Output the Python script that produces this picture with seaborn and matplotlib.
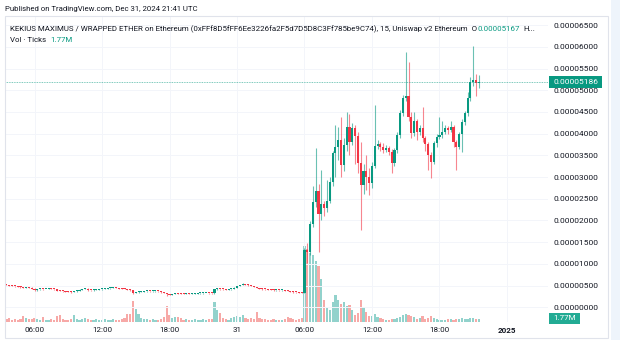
import numpy as np
import pandas as pd
import matplotlib
matplotlib.use("Agg")
import matplotlib.pyplot as plt
import seaborn as sns
from matplotlib.patches import Rectangle
from matplotlib.ticker import FixedLocator, FuncFormatter

# ---------------- data (prices in units of 1e-6 ETH, volume in millions) ----------------
PRICE_UNIT = 1e-6
first_open = 5.2
start_time = "2024-12-30 03:30"

closes = [5.15, 5.0, 4.9, 4.8, 4.75, 4.6, 4.55, 4.6, 4.5, 4.3,
          3.9, 4.1, 4.2, 4.15, 4.2, 4.25, 4.2, 4.1, 3.85, 3.75,
          3.7, 3.6, 3.55, 3.5, 3.65, 3.85, 4.05, 4.2, 4.3, 3.95,
          3.9, 4.0, 4.05, 4.1, 4.2, 4.3, 4.35, 4.45, 4.6, 4.5,
          4.3, 4.25, 4.2, 4.0, 3.9, 3.35, 3.5, 3.55, 3.6, 3.65,
          3.7, 3.65, 3.7, 3.75, 3.7, 3.5, 3.3, 2.95, 2.9, 3.05,
          3.2, 3.15, 3.1, 3.05, 3.1, 3.05, 3.1, 3.15, 3.2, 3.25,
          3.3, 3.3, 3.25, 3.2, 4.1, 4.2, 4.15, 4.1, 4.05, 4.1,
          4.2, 4.5, 4.9, 5.1, 5.35, 5.2, 5.1, 4.9, 4.7, 4.5,
          4.3, 4.15, 4.1, 4.05, 4.0, 3.95, 3.95, 3.9, 3.9, 3.85,
          3.8, 3.6, 3.5, 3.45, 3.4, 3.3,
          13.2, 12.7, 19.3, 24.3, 26.9, 21.5, 23.8, 22.8, 24.6, 28.9,
          35.5, 37.0, 38.5, 32.8, 37.4, 41.5, 38.2, 41.2, 39.5, 33.2,
          28.2, 31.5, 30.0, 28.6, 32.5, 37.2, 37.6, 37.0, 36.3, 36.8,
          35.8, 33.2, 36.2, 39.7, 44.7, 48.2, 48.6, 43.9, 40.1, 42.9,
          40.5, 41.3, 38.9, 37.6, 35.1, 33.5, 37.8, 39.3, 39.6, 40.5,
          41.2, 40.8, 41.5, 38.0, 37.0, 39.9, 42.8, 44.7, 48.2, 52.0,
          52.3, 51.67, 51.86]

highs = [5.3, 5.2, 5.05, 4.95, 4.9, 4.85, 4.7, 4.7, 4.7, 4.6,
         4.35, 4.2, 4.3, 4.3, 4.3, 4.35, 4.35, 4.3, 4.15, 3.9,
         3.85, 3.8, 3.7, 3.65, 3.75, 3.95, 4.15, 4.3, 4.4, 4.35,
         4.05, 4.1, 4.15, 4.2, 4.3, 4.4, 4.45, 4.55, 4.75, 4.7,
         4.55, 4.4, 4.35, 4.25, 4.1, 3.95, 3.6, 3.65, 3.7, 3.75,
         3.8, 3.8, 3.8, 3.85, 3.85, 3.75, 3.55, 3.35, 3.05, 3.15,
         3.3, 3.3, 3.25, 3.2, 3.2, 3.2, 3.2, 3.25, 3.3, 3.35,
         3.4, 3.4, 3.4, 3.35, 4.25, 4.4, 4.3, 4.25, 4.2, 4.2,
         4.3, 4.6, 5.0, 5.2, 5.5, 5.45, 5.3, 5.15, 4.95, 4.75,
         4.55, 4.35, 4.25, 4.2, 4.15, 4.1, 4.05, 4.05, 4.0, 4.0,
         3.95, 3.85, 3.65, 3.6, 3.55, 3.45,
         13.7, 14.7, 19.9, 28.0, 36.7, 28.5, 31.6, 24.5, 29.3, 30.0,
         36.0, 42.0, 41.5, 43.8, 39.0, 45.0, 44.5, 42.5, 42.0, 40.5,
         38.0, 33.0, 35.0, 32.0, 33.5, 46.6, 38.5, 38.0, 37.8, 37.3,
         37.2, 36.5, 36.8, 40.5, 45.5, 49.0, 58.9, 56.6, 45.0, 45.0,
         43.5, 42.0, 46.2, 39.5, 38.0, 35.8, 38.3, 40.0, 43.9, 43.0,
         42.0, 41.8, 43.0, 42.0, 38.5, 40.5, 43.5, 45.2, 49.5, 53.0,
         60.3, 53.8, 53.6]

lows = [5.05, 4.9, 4.8, 4.7, 4.65, 4.5, 4.45, 4.45, 4.4, 4.2,
        3.75, 3.85, 4.05, 4.05, 4.1, 4.1, 4.1, 4.0, 3.75, 3.65,
        3.6, 3.5, 3.45, 3.4, 3.45, 3.6, 3.8, 4.0, 4.15, 3.85,
        3.8, 3.85, 3.95, 4.0, 4.05, 4.15, 4.2, 4.3, 4.4, 4.4,
        4.2, 4.15, 4.1, 3.9, 3.8, 3.1, 3.25, 3.4, 3.45, 3.5,
        3.55, 3.55, 3.55, 3.6, 3.6, 3.4, 3.2, 2.7, 2.8, 2.85,
        3.0, 3.05, 3.0, 2.95, 2.95, 2.95, 2.95, 3.0, 3.05, 3.1,
        3.15, 3.2, 3.15, 3.1, 3.15, 4.0, 4.05, 4.0, 3.95, 3.95,
        4.0, 4.15, 4.45, 4.85, 5.05, 5.1, 5.0, 4.8, 4.6, 4.4,
        4.2, 4.05, 4.0, 3.95, 3.9, 3.85, 3.85, 3.8, 3.8, 3.75,
        3.7, 3.5, 3.4, 3.35, 3.3, 3.2,
        3.2, 10.2, 12.0, 18.5, 23.0, 12.8, 20.0, 21.0, 22.0, 24.0,
        28.0, 30.0, 34.0, 30.1, 31.5, 36.0, 35.0, 37.5, 33.0, 31.0,
        17.8, 26.0, 27.0, 25.9, 27.5, 32.0, 36.5, 36.0, 35.5, 35.8,
        35.0, 30.9, 32.5, 35.5, 39.0, 44.0, 47.5, 43.0, 39.0, 39.5,
        38.5, 39.8, 38.0, 36.0, 31.6, 29.7, 33.0, 37.0, 38.8, 39.0,
        40.0, 40.0, 40.3, 37.0, 31.6, 36.5, 35.8, 42.0, 44.0, 47.5,
        51.0, 48.6, 50.5]

volumes = [2.1, 2.8, 1.4, 2.1, 1.4, 2.1, 3.85, 2.8, 2.1, 2.1,
           2.8, 2.1, 1.4, 3.5, 1.4, 1.4, 2.1, 1.4, 4.2, 4.55,
           2.1, 1.4, 1.4, 2.1, 4.55, 2.1, 1.4, 2.1, 2.8, 2.1,
           1.4, 1.4, 2.1, 1.4, 1.4, 2.1, 1.4, 1.4, 2.1, 1.4,
           1.4, 2.1, 2.8, 5.6, 5.6, 14.7, 9.1, 5.6, 2.8, 2.1,
           2.1, 1.4, 2.1, 1.4, 1.4, 2.1, 3.5, 11.2, 4.9, 2.8,
           3.5, 3.5, 2.8, 1.4, 2.1, 1.4, 1.4, 2.1, 1.4, 1.4,
           2.1, 1.4, 2.1, 2.1, 14.0, 8.4, 6.3, 2.8, 2.1, 1.4,
           2.8, 3.5, 4.2, 3.5, 4.9, 2.8, 2.1, 2.8, 2.1, 7.0,
           2.8, 2.1, 2.1, 1.4, 1.4, 2.1, 1.4, 1.4, 1.4, 2.1,
           3.5, 2.8, 2.1, 1.4, 2.1, 2.8,
           52.5, 50.4, 47.6, 46.2, 42.0, 38.5, 29.4, 15.4, 9.8, 8.4,
           14.0, 18.2, 15.4, 12.6, 14.0, 11.2, 11.9, 8.4, 4.9, 6.3,
           15.4, 10.5, 7.0, 4.2, 4.2, 5.6, 3.5, 2.8, 2.1, 1.4,
           1.4, 2.1, 2.1, 2.8, 3.5, 4.9, 5.6, 4.9, 4.2, 3.5,
           2.1, 2.8, 4.2, 2.1, 2.8, 4.2, 2.8, 2.1, 1.4, 1.4,
           1.4, 2.1, 2.1, 1.4, 2.1, 2.1, 2.8, 2.1, 2.1, 2.8,
           2.8, 2.1, 1.77]

tick_times = ["2024-12-30 06:00", "2024-12-30 12:00", "2024-12-30 18:00",
              "2024-12-31 00:00", "2024-12-31 06:00", "2024-12-31 12:00",
              "2024-12-31 18:00", "2025-01-01 00:00"]
tick_labels = ["06:00", "12:00", "18:00", "31", "06:00", "12:00", "18:00", "2025"]
price_ticks = [0, 5, 10, 15, 20, 25, 30, 35, 40, 45, 50, 55, 60, 65]

published = "Published on TradingView.com, Dec 31, 2024 21:41 UTC"
title = ("KEKIUS MAXIMUS / WRAPPED ETHER on Ethereum "
         "(0xFFf8D5fFF6Ee3226fa2F5d7D5D8C3Ff785be9C74), 15, Uniswap v2 Ethereum  O")
header_open = "0.00005167"
vol_name = "Vol · Ticks"
vol_text = "1.77M"
last_price_text = "0.00005186"

# ---------------- styling ----------------
sns.set_theme(style="white")
FONT = ["Roboto", "DejaVu Sans"]
plt.rcParams["font.family"] = FONT
TXT = "#131722"
UP = "#089981"
DN = "#F23645"
VUP = "#92d2cc"
VDN = "#f7a9a7"
GRID = "#f3f5fa"

W, H = 620, 340
fig = plt.figure(figsize=(W / 100, H / 100), dpi=100)
fig.patch.set_facecolor("white")


def fx(px):
    return px / W


def fy(py):
    return 1 - py / H


ax = fig.add_axes([fx(5), fy(322), fx(548) - fx(5), fy(16) - fy(322)])
axv = ax.twinx()

n = len(closes)
times = pd.date_range(start_time, periods=n, freq="15min")
idx = np.arange(n)
o = np.array([first_open] + closes[:-1])
c = np.array(closes)
hi = np.array(highs)
lo = np.array(lows)
up = c >= o

# volume (seaborn)
vdf = pd.DataFrame({"idx": idx, "vol": volumes, "dir": np.where(up, "up", "down")})
sns.barplot(data=vdf, x="idx", y="vol", hue="dir", palette={"up": VUP, "down": VDN},
            dodge=False, native_scale=True, width=0.78, saturation=1, errorbar=None,
            legend=False, ax=axv, linewidth=0)
axv.set_ylim(0, max(volumes) * 4.0)
axv.set_axis_off()

# candles
px_per_unit = 306 / (67.12 + 3.39)
min_body = 1.0 / px_per_unit
body_lo = np.minimum(o, c)
body_h = np.maximum(np.abs(c - o), min_body)
cols = np.where(up, UP, DN)
ax.vlines(idx, lo * PRICE_UNIT, hi * PRICE_UNIT, colors=cols, lw=0.8, alpha=0.6, zorder=2)
ax.bar(idx, body_h * PRICE_UNIT, bottom=body_lo * PRICE_UNIT, width=0.75, color=cols,
       linewidth=0, zorder=3)

# last price line
ax.axhline(closes[-1] * PRICE_UNIT, color=UP, lw=0.6, ls=(0, (1, 1)), alpha=0.7, zorder=4)

ax.set_zorder(axv.get_zorder() + 1)
ax.patch.set_visible(False)

# axes limits / ticks
t0 = times[0]
tick_pos = [(pd.Timestamp(t) - t0) / pd.Timedelta("15min") for t in tick_times]
ax.set_xlim(-0.5, 192.6)
ax.set_ylim(-3.39 * PRICE_UNIT, 67.12 * PRICE_UNIT)
ax.xaxis.set_major_locator(FixedLocator(tick_pos))
ax.set_xticklabels(tick_labels)
for lab in ax.get_xticklabels():
    if lab.get_text() == "2025":
        lab.set_fontweight("bold")
ax.yaxis.tick_right()
ax.yaxis.set_major_locator(FixedLocator([v * PRICE_UNIT for v in price_ticks]))
ax.yaxis.set_major_formatter(FuncFormatter(lambda v, p: f"{v:.8f}"))
ax.tick_params(axis="y", length=0, pad=4.3, labelsize=6.0, labelcolor=TXT)
ax.tick_params(axis="x", length=0, pad=3.3, labelsize=5.8, labelcolor=TXT)
ax.grid(True, color=GRID, lw=0.7)
for s in ax.spines.values():
    s.set_visible(False)
ax.set_xlabel("")
ax.set_ylabel("")

# frame and right strip
fig.patches.append(Rectangle((fx(5), fy(338)), fx(608) - fx(5), fy(16) - fy(338),
                             transform=fig.transFigure, fill=False, ec="#e0e3eb", lw=0.8))
fig.patches.append(Rectangle((fx(611), 0), fx(620) - fx(611), 1,
                             transform=fig.transFigure, color="#eef4fb", lw=0))

# header texts
HS = 5.7
fig.text(fx(5), fy(9), published, fontsize=5.6, color=TXT, va="center", ha="left")
r = fig.canvas.get_renderer()
t1 = fig.text(fx(10), fy(29), title, fontsize=HS, color=TXT, va="center", ha="left")
bb = t1.get_window_extent(renderer=r)
t2 = fig.text(bb.x1 / W, fy(29), header_open, fontsize=HS, color=UP, va="center", ha="left")
bb2 = t2.get_window_extent(renderer=r)
fig.text(bb2.x1 / W + fx(4), fy(29), "H...", fontsize=HS, color=TXT, va="center", ha="left")
t3 = fig.text(fx(10), fy(40), vol_name, fontsize=HS, color=TXT, va="center", ha="left")
bb3 = t3.get_window_extent(renderer=r)
fig.text(bb3.x1 / W + fx(4), fy(40), vol_text, fontsize=HS, color=UP, va="center", ha="left")

# price label boxes
fig.patches.append(Rectangle((fx(549), fy(87.5)), fx(602) - fx(549), fy(76) - fy(87.5),
                             transform=fig.transFigure, color=UP, lw=0))
fig.text(fx(554), fy(81.8), last_price_text, fontsize=6.0, color="white", va="center", ha="left")
fig.patches.append(Rectangle((fx(549), fy(323.5)), fx(580) - fx(549), fy(312.5) - fy(323.5),
                             transform=fig.transFigure, color="#22ab94", lw=0))
fig.text(fx(564.5), fy(318), vol_text, fontsize=5.8, color="white", va="center", ha="center")

fig.savefig("out.png", dpi=100, facecolor="white")
